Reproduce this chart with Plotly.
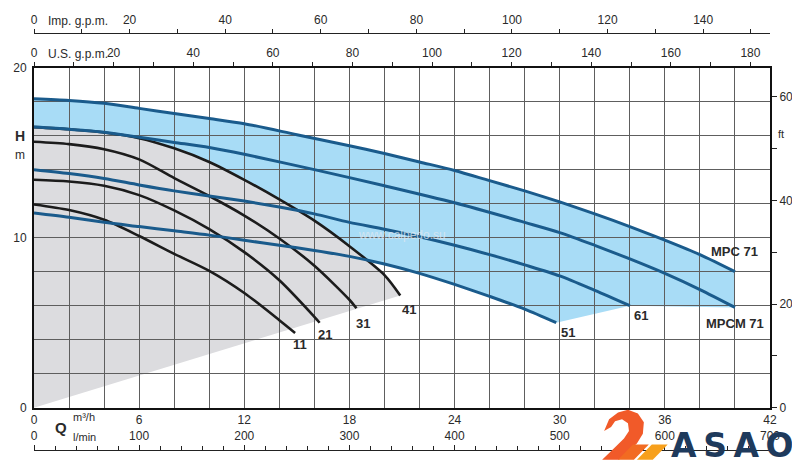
import plotly.graph_objects as go

# ---------------- data ----------------
# Blue family (MPC / MPCM 71, 61, 51) : Q in m3/h, H in m
Q_MPC71 = [0, 2, 4, 6, 8, 10, 12, 15, 18, 20, 22, 24, 26, 28, 30, 32, 34, 36, 38, 40]
H_MPC71 = [18.17, 18.07, 17.9, 17.6, 17.3, 17.0, 16.7, 16.05, 15.4, 14.95, 14.45, 13.95,
           13.35, 12.75, 12.1, 11.4, 10.65, 9.85, 9.0, 8.0]

Q_MPCM71 = [0, 2, 4, 6, 8, 10, 12, 16, 20, 24, 28, 30, 32, 34, 36, 38, 40]
H_MPCM71 = [16.5, 16.37, 16.2, 15.9, 15.6, 15.3, 14.9, 14.0, 13.05, 12.05, 10.9, 10.3,
            9.55, 8.75, 7.9, 6.95, 5.9]

Q_61 = [0, 2, 4, 6, 8, 10, 12, 14, 16, 18, 20, 22, 24, 26, 28, 30, 32, 34]
H_61 = [14.0, 13.77, 13.48, 13.1, 12.75, 12.45, 12.15, 11.8, 11.4, 10.9, 10.5, 10.05,
        9.55, 9.0, 8.4, 7.75, 6.9, 6.0]

Q_51 = [0, 2, 4, 6, 8, 10, 12, 14, 16, 18, 20, 22, 24, 26, 28, 29.8]
H_51 = [11.45, 11.2, 10.9, 10.65, 10.4, 10.15, 9.85, 9.55, 9.25, 8.9, 8.45, 7.9, 7.25,
        6.55, 5.8, 5.0]

# Black family (11, 21, 31, 41)
Q_41 = [0, 2, 4, 6, 8, 10, 12, 14, 16, 18, 20, 20.9]
H_41 = [16.5, 16.37, 16.18, 15.85, 15.25, 14.45, 13.4, 12.25, 11.0, 9.5, 7.8, 6.6]

Q_31 = [0, 2, 4, 6, 8, 10, 12, 14, 16, 18, 18.4]
H_31 = [15.64, 15.5, 15.2, 14.6, 13.5, 12.45, 11.3, 9.95, 8.35, 6.35, 5.85]

Q_21 = [0, 2, 4, 6, 8, 10, 12, 14, 16, 16.3]
H_21 = [13.4, 13.3, 13.05, 12.5, 11.6, 10.5, 9.15, 7.5, 5.35, 5.0]

Q_11 = [0, 2, 4, 6, 8, 10, 12, 14, 14.9]
H_11 = [11.95, 11.62, 11.05, 10.1, 9.05, 8.05, 6.75, 5.15, 4.4]

# axis scales
Q_MAX = 42          # m3/h
H_MAX = 20          # m
Q_TICKS = list(range(0, 43, 2))
Q_LABELS = [0, 6, 12, 18, 24, 30, 36, 42]
H_TICKS = list(range(0, 21, 2))
H_LABELS = [0, 10, 20]
FT_TICKS = list(range(0, 61, 10))
FT_LABELS = [0, 20, 40, 60]
M3H_TO_USGPM = 4.40287
M3H_TO_IMPGPM = 3.66615
M3H_TO_LMIN = 1000 / 60
M_TO_FT = 3.28084

# ---------------- geometry helpers ----------------
# the page body has an 8 px margin, so the figure is offset by 8 px
OFF = 8
W, HGT = 800 - OFF, 467 - OFF
ML = 29 - OFF            # plot left edge at reference x = 29
MR = W - (770 - OFF)     # plot right edge at reference x = 770
MT = 20 - OFF            # paper top at reference y = 20
MB = HGT - (462 - OFF)   # paper bottom at reference y = 462
PW = W - ML - MR
PH = HGT - MT - MB


def px(x):
    """reference-pixel x -> paper fraction"""
    return (x - OFF - ML) / PW


def py(y):
    """reference-pixel y -> paper fraction"""
    return (HGT - MB - (y - OFF)) / PH


BLUE_LINE = "#1a5b8c"
BLACK_LINE = "#1c1c1c"
BLUE_FILL = "#a8dcf6"
GRAY_FILL = "#dcdcdf"
GRID = "#5e5e5e"
TXT = "#2a2a2a"
FONT = "Liberation Sans, Arial, sans-serif"

fig = go.Figure()

# ---------------- filled regions (below gridlines) ----------------
def path_from(points):
    return "M " + " L ".join(f"{x},{y}" for x, y in points) + " Z"


blue_poly = list(zip(Q_MPC71, H_MPC71))
blue_poly += [(Q_MPCM71[-1], H_MPCM71[-1]), (Q_61[-1], H_61[-1])]
blue_poly += list(zip(Q_51[::-1], H_51[::-1]))

gray_poly = [(0, 0)] + list(zip(Q_41[::-1], H_41[::-1]))

shapes = [
    dict(type="path", xref="x", yref="y", path=path_from(blue_poly),
         fillcolor=BLUE_FILL, line=dict(width=0), layer="below"),
    dict(type="path", xref="x", yref="y", path=path_from(gray_poly),
         fillcolor=GRAY_FILL, line=dict(width=0), layer="below"),
]

# ---------------- curves ----------------
for q, h in [(Q_11, H_11), (Q_21, H_21), (Q_31, H_31), (Q_41, H_41)]:
    fig.add_trace(go.Scatter(x=q, y=h, mode="lines",
                             line=dict(color=BLACK_LINE, width=2.6, shape="spline", smoothing=0.8),
                             hoverinfo="skip", showlegend=False))
for q, h in [(Q_51, H_51), (Q_61, H_61), (Q_MPCM71, H_MPCM71), (Q_MPC71, H_MPC71)]:
    fig.add_trace(go.Scatter(x=q, y=h, mode="lines",
                             line=dict(color=BLUE_LINE, width=3, shape="spline", smoothing=0.8),
                             hoverinfo="skip", showlegend=False))

# dummy traces so every secondary scale is drawn
for xa, ya in [("x2", "y"), ("x3", "y"), ("x4", "y"), ("x", "y2")]:
    fig.add_trace(go.Scatter(x=[0], y=[0], xaxis=xa, yaxis=ya, mode="markers",
                             marker=dict(opacity=0), hoverinfo="skip", showlegend=False))

# ---------------- curve labels ----------------
annotations = []
lab_font = dict(family=FONT, size=13, color=TXT)
for name, q, h, dx, dy in [("11", Q_11, H_11, 5, -12), ("21", Q_21, H_21, 5, -12),
                           ("31", Q_31, H_31, 7, -15), ("41", Q_41, H_41, 9, -14),
                           ("51", Q_51, H_51, 12, -10), ("61", Q_61, H_61, 11, -10),
                           ("MPC 71", Q_MPC71, H_MPC71, 0, 20),
                           ("MPCM 71", Q_MPCM71, H_MPCM71, 0, -16)]:
    annotations.append(dict(x=q[-1], y=h[-1], xref="x", yref="y", text=f"<b>{name}</b>",
                            showarrow=False, xshift=dx, yshift=dy, font=lab_font))


def ptext(text, x, y, size=12, xanchor="center", bold=False, color=TXT, family=FONT):
    t = f"<b>{text}</b>" if bold else text
    annotations.append(dict(x=px(x), y=py(y), xref="paper", yref="paper", text=t,
                            showarrow=False, xanchor=xanchor, yanchor="middle",
                            font=dict(family=family, size=size, color=color)))


ptext("Imp. g.p.m.", 41, 12, 12, "left")
ptext("U.S. g.p.m.", 41, 46, 12, "left")
ptext("H", 15, 131, 14, bold=True)
ptext("m", 15, 151, 12)
ptext("Q", 56, 433, 15, bold=True)
ptext("m³/h", 66, 423, 11, "left")
ptext("l/min", 66, 443, 11, "left")
ptext("ft", 781, 129, 11)
# faint watermark
ptext("www.calpedo.su", 400, 234, 12, color="rgba(225,232,240,0.75)")

# logo (decoration)
def ppath(points):
    return "M " + " L ".join(f"{px(x)},{py(y)}" for x, y in points) + " Z"


hook = [(603, 437), (608, 425), (617, 418), (627, 415), (637, 419), (643, 428), (642, 440),
        (636, 450), (625, 460), (618, 467), (601, 467), (613, 455), (623, 445), (628, 437),
        (627, 429), (621, 425), (614, 427), (610, 433)]
slash1 = [(617, 467), (632, 451), (648, 451), (633, 467)]
slash2 = [(636, 467), (651, 451), (667, 451), (652, 467)]
shapes += [
    dict(type="path", xref="paper", yref="paper", path=ppath(hook), fillcolor="#f15a29",
         line=dict(width=0), layer="above"),
    dict(type="path", xref="paper", yref="paper", path=ppath(slash1), fillcolor="#f26b22",
         line=dict(width=0), layer="above"),
    dict(type="path", xref="paper", yref="paper", path=ppath(slash2), fillcolor="#f7a01c",
         line=dict(width=0), layer="above"),
]
ptext("A\u2009S\u2009A\u2009O", 732, 452, 33, bold=True, color="#1e3a5c",
      family="DejaVu Sans, sans-serif")

tick_font = dict(family=FONT, size=12, color=TXT)

fig.update_layout(
    width=W, height=HGT,
    margin=dict(l=ML, r=MR, t=MT, b=MB),
    paper_bgcolor="white", plot_bgcolor="white",
    shapes=shapes, annotations=annotations,
    xaxis=dict(range=[0, Q_MAX], domain=[0, 1], anchor="y",
               tickmode="array", tickvals=Q_TICKS,
               ticktext=[str(v) if v in Q_LABELS else "" for v in Q_TICKS],
               ticks="", showgrid=True, gridcolor=GRID, gridwidth=1,
               showline=True, linecolor="#111", linewidth=2, zeroline=False,
               tickfont=tick_font),
    yaxis=dict(range=[0, H_MAX], domain=[py(413), py(60)], anchor="x",
               tickmode="array", tickvals=H_TICKS,
               ticktext=[str(v) if v in H_LABELS else "" for v in H_TICKS],
               ticks="", showgrid=True, gridcolor=GRID, gridwidth=1,
               showline=True, linecolor="#111", linewidth=2, zeroline=False,
               tickfont=tick_font, ticklabelstandoff=3),
    xaxis2=dict(overlaying="x", side="top", anchor="y",
                range=[0, Q_MAX * M3H_TO_USGPM], tickmode="linear", tick0=0, dtick=20,
                ticks="outside", ticklen=4, tickcolor="#222",
                minor=dict(dtick=10, ticks="outside", ticklen=4, tickcolor="#222", showgrid=False),
                showgrid=False, showline=True, linecolor="#111", linewidth=2,
                zeroline=False, tickfont=tick_font),
    xaxis3=dict(overlaying="x", side="top", anchor="free", position=py(24),
                range=[0, Q_MAX * M3H_TO_IMPGPM], tickmode="linear", tick0=0, dtick=20,
                ticks="outside", ticklen=4, tickcolor="#222",
                minor=dict(dtick=10, ticks="outside", ticklen=4, tickcolor="#222", showgrid=False),
                showgrid=False, showline=True, linecolor="#222", linewidth=1.3,
                zeroline=False, tickfont=tick_font),
    xaxis4=dict(overlaying="x", side="top", anchor="free", position=py(457),
                range=[0, Q_MAX * M3H_TO_LMIN], tickmode="linear", tick0=0, dtick=100,
                ticks="outside", ticklen=5, tickcolor="#222",
                minor=dict(dtick=20, ticks="outside", ticklen=4, tickcolor="#222", showgrid=False),
                showgrid=False, showline=True, linecolor="#222", linewidth=1.3,
                zeroline=False, tickfont=tick_font),
    yaxis2=dict(overlaying="y", side="right", anchor="x",
                range=[0, H_MAX * M_TO_FT], tickmode="array", tickvals=FT_TICKS,
                ticktext=[str(v) if v in FT_LABELS else "" for v in FT_TICKS],
                ticks="outside", ticklen=5, tickcolor="#222",
                showgrid=False, showline=True, linecolor="#111", linewidth=2,
                zeroline=False, tickfont=tick_font),
)

fig.write_html("out.html")
